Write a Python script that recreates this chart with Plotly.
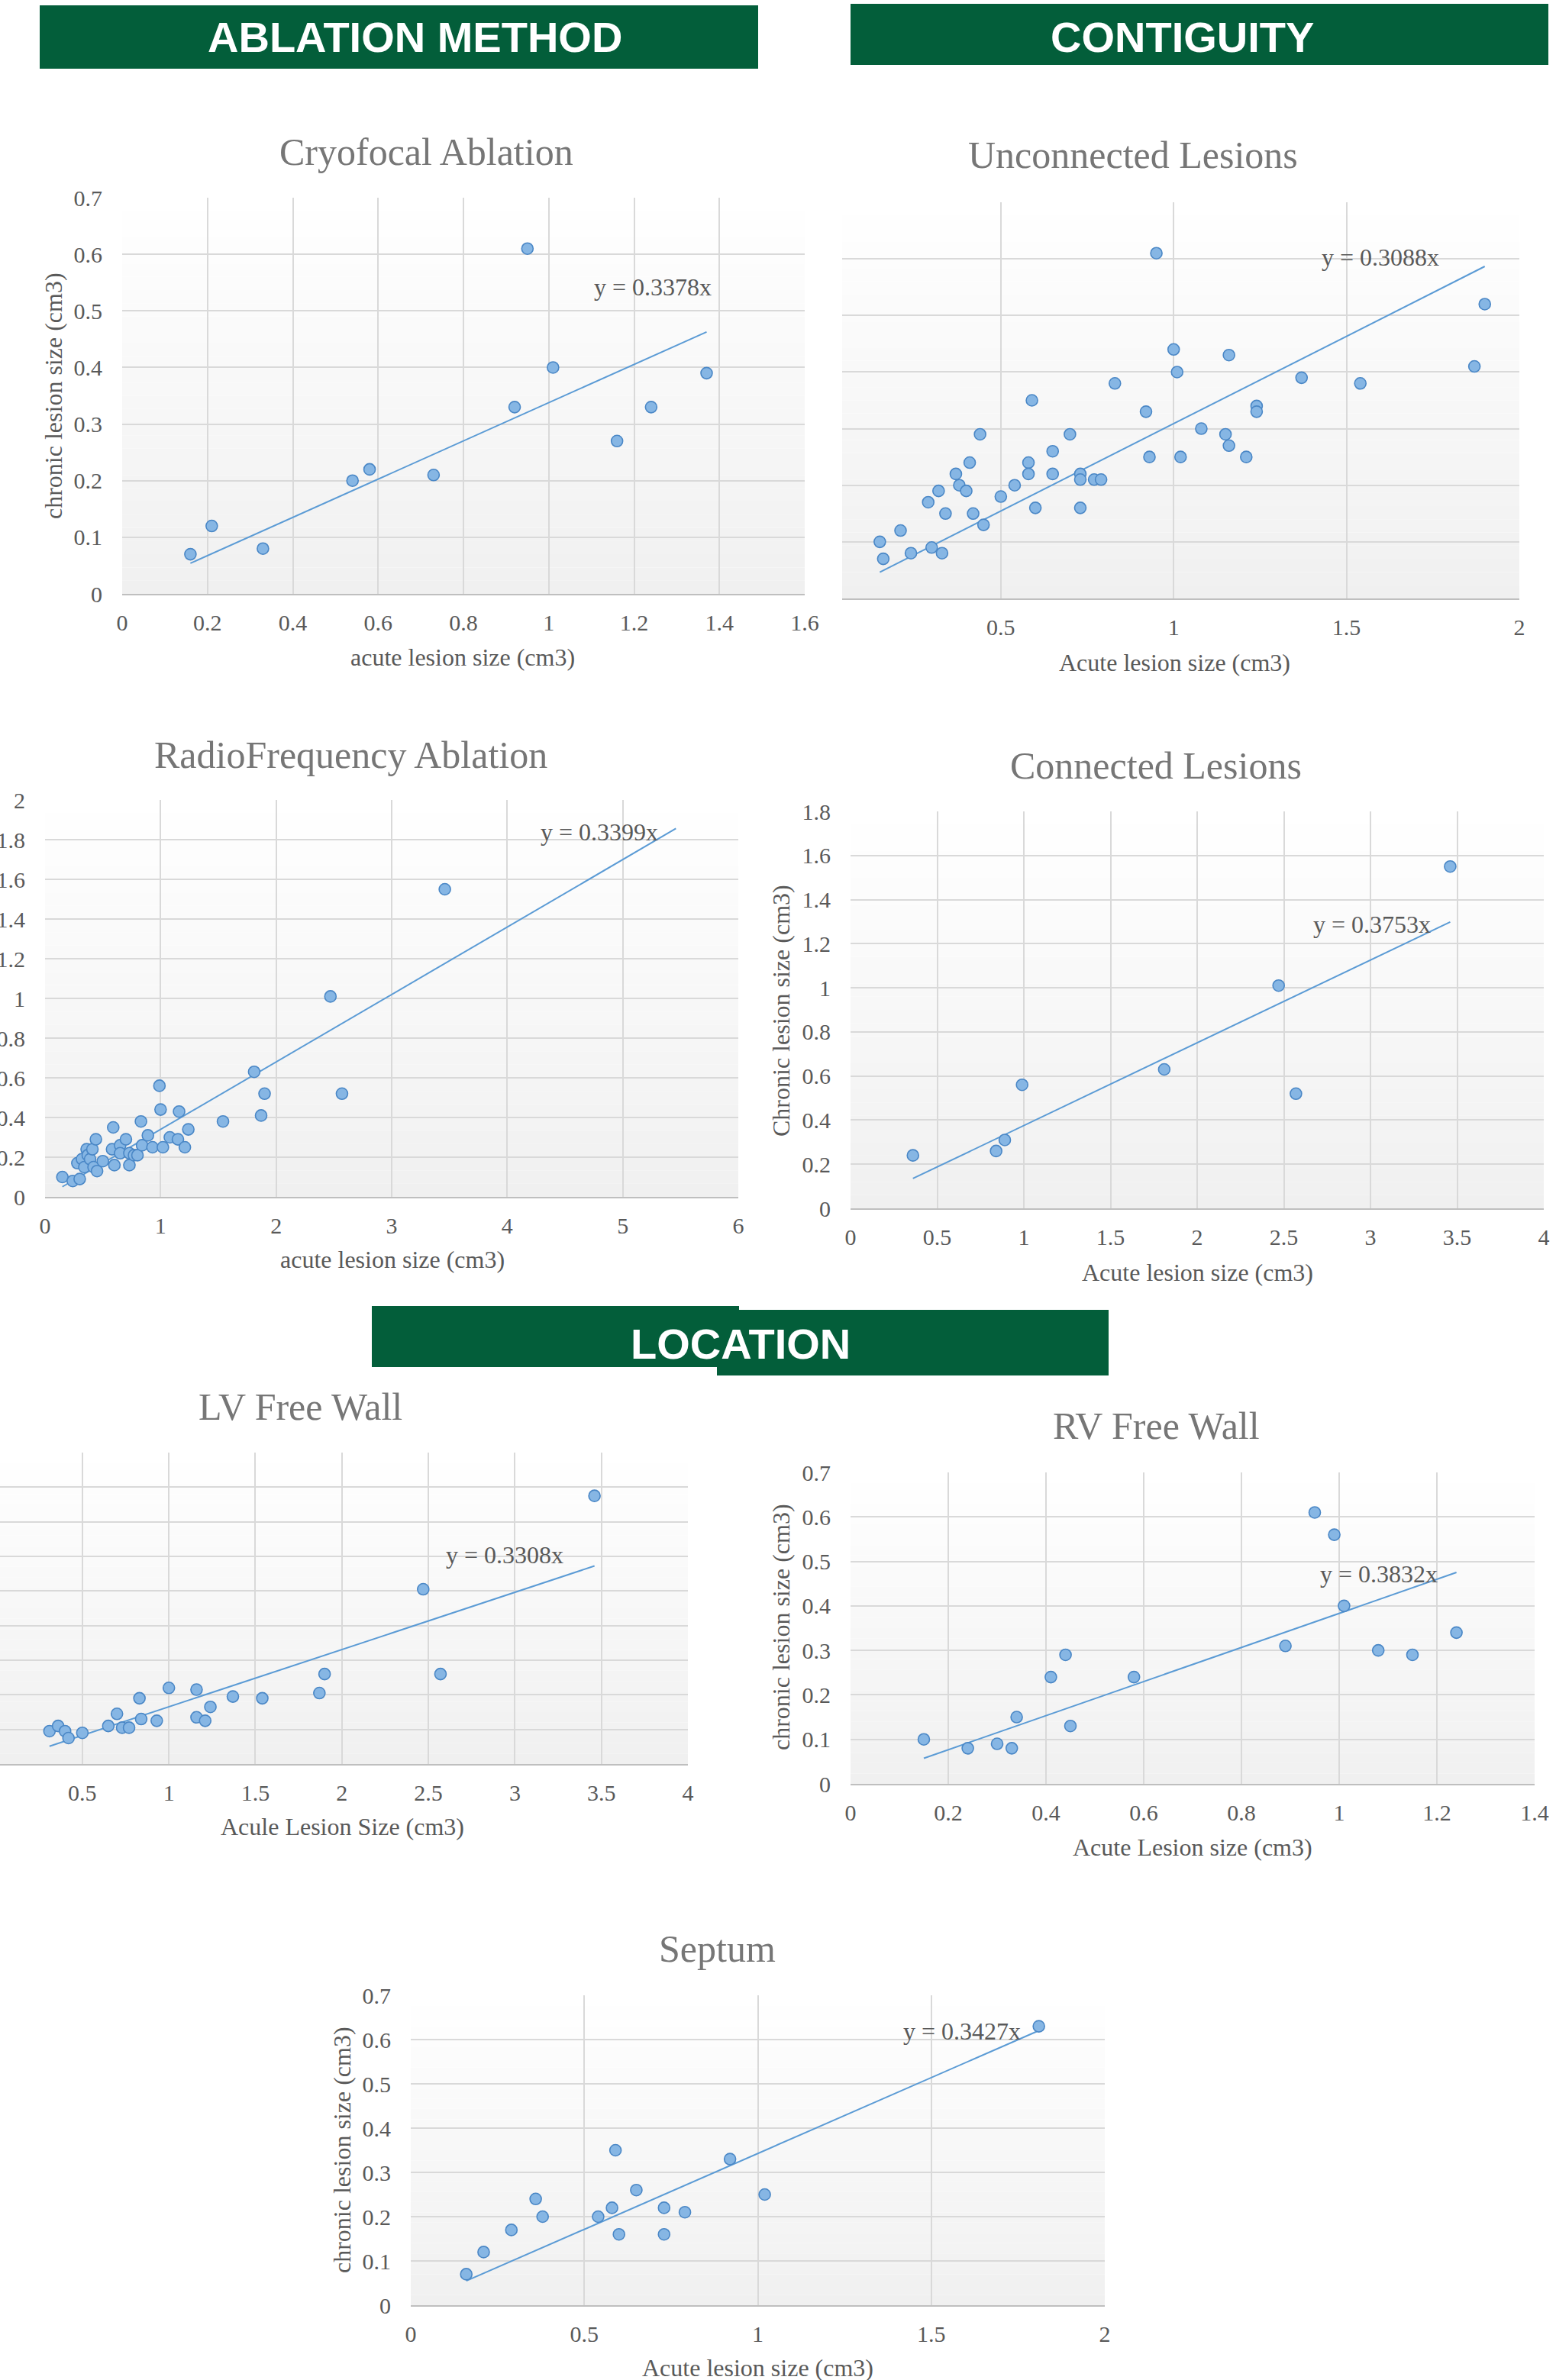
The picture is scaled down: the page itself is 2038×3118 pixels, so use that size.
import plotly.graph_objects as go

W, H = 2038, 3118

# ---------------- data ----------------
cryo_acute = [0.16, 0.21, 0.33, 0.54, 0.58, 0.73, 0.92, 0.95, 1.01, 1.16, 1.24, 1.37]
cryo_chronic = [0.07, 0.12, 0.08, 0.20, 0.22, 0.21, 0.33, 0.61, 0.40, 0.27, 0.33, 0.39]
cryo_slope = 0.3378
cryo_trend_x = [0.16, 1.37]

unconn_acute = [0.15, 0.16, 0.21, 0.24, 0.29, 0.30, 0.32, 0.33, 0.34, 0.37, 0.38, 0.40,
                0.41, 0.42, 0.44, 0.45, 0.50, 0.54, 0.58, 0.58, 0.59, 0.60, 0.65, 0.65,
                0.70, 0.73, 0.73, 0.73, 0.77, 0.79, 0.83, 0.92, 0.93, 0.95, 1.00, 1.01,
                1.02, 1.08, 1.15, 1.16, 1.16, 1.21, 1.24, 1.24, 1.37, 1.54, 1.87, 1.90]
unconn_chronic = [0.10, 0.07, 0.12, 0.08, 0.17, 0.09, 0.19, 0.08, 0.15, 0.22, 0.20, 0.19,
                  0.24, 0.15, 0.29, 0.13, 0.18, 0.20, 0.24, 0.22, 0.35, 0.16, 0.26, 0.22,
                  0.29, 0.22, 0.21, 0.16, 0.21, 0.21, 0.38, 0.33, 0.25, 0.61, 0.44, 0.40,
                  0.25, 0.30, 0.29, 0.43, 0.27, 0.25, 0.34, 0.33, 0.39, 0.38, 0.41, 0.52]
unconn_slope = 0.3088
unconn_trend_x = [0.15, 1.90]

rf_acute = [0.15, 0.24, 0.30, 0.28, 0.32, 0.34, 0.36, 0.37, 0.39, 0.41, 0.42, 0.44,
            0.45, 0.50, 0.58, 0.59, 0.60, 0.65, 0.65, 0.70, 0.73, 0.73, 0.77, 0.80,
            0.83, 0.84, 0.89, 0.93, 0.99, 1.00, 1.02, 1.08, 1.15, 1.16, 1.21, 1.24,
            1.54, 1.81, 1.87, 1.90, 2.47, 2.57, 3.46]
rf_chronic = [0.10, 0.08, 0.09, 0.17, 0.19, 0.15, 0.24, 0.21, 0.19, 0.24, 0.15, 0.29,
              0.13, 0.18, 0.24, 0.35, 0.16, 0.26, 0.22, 0.29, 0.22, 0.16, 0.21, 0.21,
              0.38, 0.26, 0.31, 0.25, 0.56, 0.44, 0.25, 0.30, 0.29, 0.43, 0.25, 0.34,
              0.38, 0.63, 0.41, 0.52, 1.01, 0.52, 1.55]
rf_slope = 0.3399
rf_trend_x = [0.15, 5.46]

conn_acute = [0.36, 0.84, 0.89, 0.99, 1.81, 2.47, 2.57, 3.46]
conn_chronic = [0.24, 0.26, 0.31, 0.56, 0.63, 1.01, 0.52, 1.55]
conn_slope = 0.3753
conn_trend_x = [0.36, 3.46]

lv_acute = [0.31, 0.36, 0.40, 0.42, 0.50, 0.65, 0.70, 0.73, 0.77, 0.83, 0.84, 0.93,
            1.00, 1.16, 1.16, 1.21, 1.24, 1.37, 1.54, 1.87, 1.90, 2.47, 2.57, 3.46]
lv_chronic = [0.19, 0.22, 0.19, 0.15, 0.18, 0.22, 0.29, 0.21, 0.21, 0.38, 0.26, 0.25,
              0.44, 0.43, 0.27, 0.25, 0.33, 0.39, 0.38, 0.41, 0.52, 1.01, 0.52, 1.55]
lv_slope = 0.3308
lv_trend_x = [0.31, 3.46]

rv_acute = [0.15, 0.24, 0.30, 0.33, 0.34, 0.41, 0.44, 0.45, 0.58, 0.89, 0.95, 0.99,
            1.01, 1.08, 1.15, 1.24]
rv_chronic = [0.10, 0.08, 0.09, 0.08, 0.15, 0.24, 0.29, 0.13, 0.24, 0.31, 0.61, 0.56,
              0.40, 0.30, 0.29, 0.34]
rv_slope = 0.3832
rv_trend_x = [0.15, 1.24]

septum_acute = [0.16, 0.21, 0.29, 0.36, 0.38, 0.54, 0.58, 0.59, 0.60, 0.65, 0.73, 0.73,
                0.79, 0.92, 1.02, 1.81]
septum_chronic = [0.07, 0.12, 0.17, 0.24, 0.20, 0.20, 0.22, 0.35, 0.16, 0.26, 0.22, 0.16,
                  0.21, 0.33, 0.25, 0.63]
septum_slope = 0.3427
septum_trend_x = [0.16, 1.81]

header_labels = ["ABLATION METHOD", "CONTIGUITY", "LOCATION"]

# ---------------- styling / layout ----------------
SERIF = "Liberation Serif, Times New Roman, serif"
SANS = "Liberation Sans, Arial, sans-serif"
GREEN = "#035E3A"
GRID = "#D9D9D9"
TICK_C = "#595959"
TITLE_C = "#767676"

panels = [
    dict(acute=cryo_acute, chronic=cryo_chronic, slope=cryo_slope, trend=cryo_trend_x,
         title="Cryofocal Ablation", xtitle="acute lesion size (cm3)",
         ytitle="chronic lesion size (cm3)",
         px=(160, 1054), py=(259, 778), xr=[0, 1.6], xd=0.2, yr=[0, 0.7], yd=0.1,
         ylab=True, tpos=(558, 199), xtpos=(606, 861), ytpos=(70, 519), eqpos=(855, 376)),
    dict(acute=unconn_acute, chronic=unconn_chronic, slope=unconn_slope, trend=unconn_trend_x,
         title="Unconnected Lesions", xtitle="Acute lesion size (cm3)", ytitle=None,
         px=(1103, 1990), py=(265, 784), xr=[0.041, 2], xd=0.5, yr=[0, 0.7], yd=0.1,
         ylab=False, tpos=(1484, 203), xtpos=(1538, 868), ytpos=None, eqpos=(1808, 337)),
    dict(acute=rf_acute, chronic=rf_chronic, slope=rf_slope, trend=rf_trend_x,
         title="RadioFrequency Ablation", xtitle="acute lesion size (cm3)", ytitle=None,
         px=(59, 967), py=(1048, 1568), xr=[0, 6], xd=1, yr=[0, 2], yd=0.2,
         ylab=True, tpos=(459, 989), xtpos=(514, 1650), ytpos=None, eqpos=(785, 1090)),
    dict(acute=conn_acute, chronic=conn_chronic, slope=conn_slope, trend=conn_trend_x,
         title="Connected Lesions", xtitle="Acute lesion size (cm3)",
         ytitle="Chronic lesion size (cm3)",
         px=(1114, 2022), py=(1063, 1583), xr=[0, 4], xd=0.5, yr=[0, 1.8], yd=0.2,
         ylab=True, tpos=(1514, 1003), xtpos=(1568, 1667), ytpos=(1023, 1324), eqpos=(1797, 1211)),
    dict(acute=lv_acute, chronic=lv_chronic, slope=lv_slope, trend=lv_trend_x,
         title="LV Free Wall", xtitle="Acule Lesion Size (cm3)", ytitle=None,
         px=(0, 901), py=(1903, 2311), xr=[0.024, 4], xd=0.5, yr=[0, 1.8], yd=0.2,
         ylab=False, tpos=(393, 1843), xtpos=(448, 2393), ytpos=None, eqpos=(661, 2037)),
    dict(acute=rv_acute, chronic=rv_chronic, slope=rv_slope, trend=rv_trend_x,
         title="RV Free Wall", xtitle="Acute Lesion size (cm3)",
         ytitle="chronic lesion size (cm3)",
         px=(1114, 2010), py=(1929, 2337), xr=[0, 1.4], xd=0.2, yr=[0, 0.7], yd=0.1,
         ylab=True, tpos=(1514, 1868), xtpos=(1562, 2420), ytpos=(1023, 2132), eqpos=(1806, 2062)),
    dict(acute=septum_acute, chronic=septum_chronic, slope=septum_slope, trend=septum_trend_x,
         title="Septum", xtitle="Acute lesion size (cm3)",
         ytitle="chronic lesion size (cm3)",
         px=(538, 1447), py=(2614, 3020), xr=[0, 2], xd=0.5, yr=[0, 0.7], yd=0.1,
         ylab=True, tpos=(939, 2553), xtpos=(992, 3102), ytpos=(448, 2817), eqpos=(1260, 2661)),
]


def fx(p):
    return p / W


def fy(p):
    return 1 - p / H


fig = go.Figure()
layout = dict(width=W, height=H, margin=dict(l=0, r=0, t=0, b=0, pad=0, autoexpand=False),
              autosize=False, paper_bgcolor="white", plot_bgcolor="white", showlegend=False)
annotations = []
shapes = []

for i, p in enumerate(panels, start=1):
    sfx = "" if i == 1 else str(i)
    xa, ya = "x" + sfx, "y" + sfx
    fig.add_trace(go.Scatter(
        x=p["trend"], y=[p["slope"] * v for v in p["trend"]], mode="lines",
        line=dict(color="#5B9BD5", width=2), xaxis=xa, yaxis=ya, hoverinfo="skip"))
    fig.add_trace(go.Scatter(
        x=p["acute"], y=p["chronic"], mode="markers",
        marker=dict(size=15, color="#86B6E4", line=dict(color="#4A87C6", width=1.6)),
        xaxis=xa, yaxis=ya))

    layout["xaxis" + sfx] = dict(
        domain=[fx(p["px"][0]), fx(p["px"][1])], range=p["xr"], dtick=p["xd"], tick0=0,
        showgrid=True, gridcolor=GRID, gridwidth=2, zeroline=False,
        showline=True, linecolor="#BFBFBF", linewidth=2, ticks="",
        tickfont=dict(family=SERIF, size=30, color=TICK_C), ticklabelstandoff=10,
        anchor=ya, fixedrange=True, automargin=False)
    layout["yaxis" + sfx] = dict(
        domain=[fy(p["py"][1]), fy(p["py"][0])], range=p["yr"], dtick=p["yd"], tick0=0,
        showgrid=True, gridcolor=GRID, gridwidth=2, zeroline=False, showline=False,
        ticks="", showticklabels=p["ylab"],
        tickfont=dict(family=SERIF, size=30, color=TICK_C), ticklabelstandoff=25,
        anchor=xa, fixedrange=True, automargin=False)

    # gradient background
    nb = 30
    for k in range(nb):
        c = int(round(240 + 15 * (k + 0.5) / nb))
        shapes.append(dict(type="rect", xref=xa + " domain", yref=ya + " domain",
                           x0=0, x1=1, y0=k / nb, y1=(k + 1) / nb, layer="below",
                           line=dict(width=0), fillcolor=f"rgb({c},{c},{c})"))

    annotations.append(dict(text=p["title"], x=fx(p["tpos"][0]), y=fy(p["tpos"][1]),
                            xref="paper", yref="paper", showarrow=False,
                            xanchor="center", yanchor="middle",
                            font=dict(family=SERIF, size=50, color=TITLE_C)))
    annotations.append(dict(text=p["xtitle"], x=fx(p["xtpos"][0]), y=fy(p["xtpos"][1]),
                            xref="paper", yref="paper", showarrow=False,
                            xanchor="center", yanchor="middle",
                            font=dict(family=SERIF, size=32, color=TICK_C)))
    if p["ytitle"]:
        annotations.append(dict(text=p["ytitle"], x=fx(p["ytpos"][0]), y=fy(p["ytpos"][1]),
                                xref="paper", yref="paper", showarrow=False, textangle=-90,
                                xanchor="center", yanchor="middle",
                                font=dict(family=SERIF, size=32, color=TICK_C)))
    annotations.append(dict(text=f"y = {p['slope']}x", x=fx(p["eqpos"][0]), y=fy(p["eqpos"][1]),
                            xref="paper", yref="paper", showarrow=False,
                            xanchor="center", yanchor="middle",
                            font=dict(family=SERIF, size=32, color=TICK_C)))

# section headers
header_boxes = [
    [(52, 993, 7, 90)],
    [(1114, 2028, 5, 85)],
    [(487, 968, 1711, 1791), (939, 1452, 1716, 1802)],
]
header_text_pos = [(543, 49), (1548, 49), (970, 1760)]
for label, boxes, tp in zip(header_labels, header_boxes, header_text_pos):
    for (x0, x1, y0, y1) in boxes:
        shapes.append(dict(type="rect", xref="paper", yref="paper",
                           x0=fx(x0), x1=fx(x1), y0=fy(y1), y1=fy(y0),
                           fillcolor=GREEN, line=dict(width=0), layer="above"))
    annotations.append(dict(text=f"<b>{label}</b>", x=fx(tp[0]), y=fy(tp[1]),
                            xref="paper", yref="paper", showarrow=False,
                            xanchor="center", yanchor="middle",
                            font=dict(family=SANS, size=56, color="white")))

layout["annotations"] = annotations
layout["shapes"] = shapes
fig.update_layout(**layout)
fig.write_html("out.html", config={"displayModeBar": False},
               post_script="document.body.style.margin='0px';document.body.style.overflow='hidden';")
